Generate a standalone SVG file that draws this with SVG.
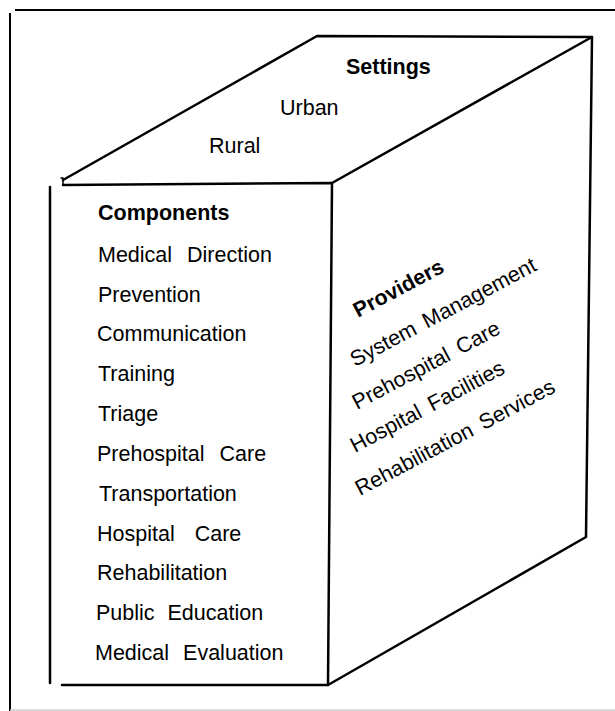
<svg xmlns="http://www.w3.org/2000/svg" width="615" height="711" viewBox="0 0 615 711">
<style>
.ln{fill:none;stroke:#000;stroke-width:2.5;stroke-linecap:round;stroke-linejoin:round}
.fr{fill:none;stroke:#000;stroke-width:2}
.t{font-family:"Liberation Sans",Arial,sans-serif;font-size:21.5px;fill:#000;word-spacing:6px}
.p{word-spacing:4px}
.b{font-weight:bold}
</style>
<rect width="615" height="711" fill="#fff"/>
<g id="frame">
<line class="fr" x1="15" y1="10" x2="615" y2="10"/>
<line class="fr" x1="10" y1="13" x2="10" y2="711"/>
<line x1="10" y1="710" x2="615" y2="710" stroke="#ccc" stroke-width="1.5"/>
</g>
<g id="box">
<polyline class="ln" points="63,180 317,36 592,37 586,537 328,685 62,685"/>
<polyline class="ln" points="63,185 332,183 328,685"/>
<line class="ln" x1="332" y1="183" x2="592" y2="37"/>
<line class="ln" x1="50" y1="187" x2="50" y2="683"/>
<polyline class="ln" style="stroke-width:1.5" points="61,178 63,178 63,185"/>
</g>
<g id="settings">
<text class="t b" x="346" y="74">Settings</text>
<text class="t" x="280" y="115">Urban</text>
<text class="t" x="209" y="153">Rural</text>
</g>
<g id="components">
<text class="t b" x="98" y="220">Components</text>
<text class="t" x="98" y="262" style="word-spacing:9px">Medical Direction</text>
<text class="t" x="98" y="302">Prevention</text>
<text class="t" x="97" y="341">Communication</text>
<text class="t" x="98" y="381">Training</text>
<text class="t" x="98" y="421">Triage</text>
<text class="t" x="97" y="461" style="word-spacing:9px">Prehospital Care</text>
<text class="t" x="99" y="501">Transportation</text>
<text class="t" x="97" y="541" style="word-spacing:14px">Hospital Care</text>
<text class="t" x="97" y="580">Rehabilitation</text>
<text class="t" x="96" y="620" style="word-spacing:7px">Public Education</text>
<text class="t" x="95" y="660" style="word-spacing:8px">Medical Evaluation</text>
</g>
<g id="providers">
<text class="t b" transform="translate(358,318) rotate(-28)">Providers</text>
<text class="t p" transform="translate(355,367) rotate(-28)">System Management</text>
<text class="t p" transform="translate(357,410) rotate(-28)">Prehospital Care</text>
<text class="t p" transform="translate(355,453) rotate(-28)">Hospital Facilities</text>
<text class="t p" transform="translate(360,496) rotate(-28)">Rehabilitation Services</text>
</g>
</svg>
